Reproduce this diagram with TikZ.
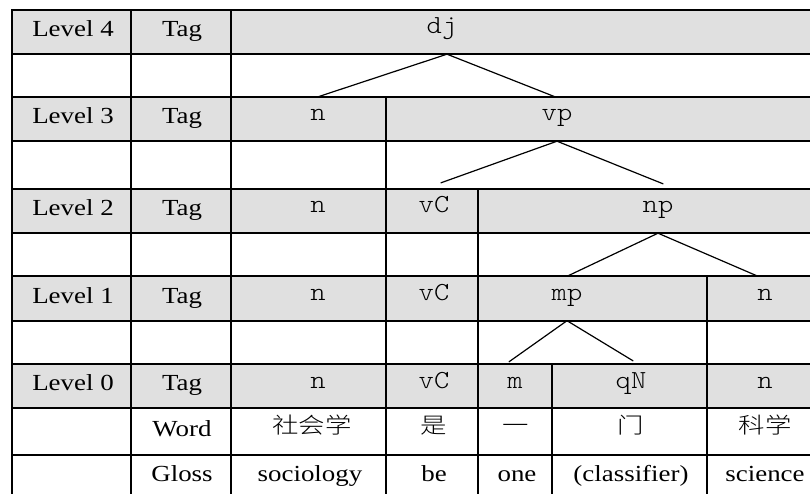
\documentclass[tikz,border=0pt]{standalone}
\usepackage{fontspec}
\setmainfont{Liberation Serif}[FakeStretch=1.17]
\setmonofont{Latin Modern Mono Light}[FakeStretch=1.12]
\newfontfamily\cjkfont{Noto Sans CJK SC Light}[FakeStretch=1.2]
\definecolor{tagbg}{RGB}{224,224,224}
\tikzset{
  gridline/.style={line width=1.5pt, line cap=rect},
  branch/.style={line width=1.2pt, line cap=round},
  cell/.style={inner sep=0pt, font=\fontsize{23}{27}\selectfont, text height=15pt, text depth=6pt},
  tagcell/.style={inner sep=0pt, minimum height=44pt, font=\fontsize{26}{30}\selectfont\ttfamily, text height=13pt, text depth=9pt},
  wordcell/.style={inner sep=0pt, font=\fontsize{22}{26}\selectfont\cjkfont, text height=12pt, text depth=9pt},
}
\begin{document}
\begin{tikzpicture}[x=1pt,y=-1pt]
\useasboundingbox (0,0) rectangle (810,494);
% gray tag rows
\foreach \a/\b in {10/54, 97/141, 189/233, 276/321, 364/408}
  \fill[tagbg] (12,\a) rectangle (810,\b);
% horizontal lines
\foreach \y in {10,54,97,141,189,233,276,321,364,408,455}
  \draw[gridline] (12,\y) -- (812,\y);
% vertical lines
\draw[gridline] (12,10) -- (12,496);
\draw[gridline] (131,10) -- (131,496);
\draw[gridline] (231,10) -- (231,496);
\draw[gridline] (386,97) -- (386,496);
\draw[gridline] (478,189) -- (478,496);
\draw[gridline] (707,276) -- (707,496);
\draw[gridline] (552,364) -- (552,496);
% level labels
\node[cell] (L4) at (73,32) {Level 4};
\node[cell] (L3) at (73,119) {Level 3};
\node[cell] (L2) at (73,211) {Level 2};
\node[cell] (L1) at (73,298.5) {Level 1};
\node[cell] (L0) at (73,386) {Level 0};
\node[cell] (T4) at (182,32) {Tag};
\node[cell] (T3) at (182,119) {Tag};
\node[cell] (T2) at (182,211) {Tag};
\node[cell] (T1) at (182,298.5) {Tag};
\node[cell] (T0) at (182,386) {Tag};
\node[cell] (Wd) at (182,431.5) {Word};
\node[cell] (Gl) at (182,477) {Gloss};
% tags
\node[tagcell] (dj) at (442,32) {dj};
\node[tagcell] (n3) at (318,119) {n};
\node[tagcell] (vp) at (557,119) {vp};
\node[tagcell] (n2) at (318,211) {n};
\node[tagcell] (vc2) at (434,211) {vC};
\node[tagcell] (np) at (658,211) {np};
\node[tagcell] (n1a) at (318,298.5) {n};
\node[tagcell] (vc1) at (434,298.5) {vC};
\node[tagcell] (mp) at (567,298.5) {mp};
\node[tagcell] (n1b) at (765,298.5) {n};
\node[tagcell] (n0a) at (318,386) {n};
\node[tagcell] (vc0) at (434,386) {vC};
\node[tagcell] (m0) at (515,386) {m};
\node[tagcell] (qn0) at (631,386) {qN};
\node[tagcell] (n0b) at (765,386) {n};
% words
\node[wordcell] (w1) at (312,431.5) {社会学};
\node[wordcell] (w2) at (434,431.5) {是};
\node[wordcell] (w3) at (516,431.5) {一};
\node[wordcell] (w4) at (631,431.5) {门};
\node[wordcell] (w5) at (765,431.5) {科学};
% glosses
\node[cell] (g1) at (310,477) {sociology};
\node[cell] (g2) at (434,477) {be};
\node[cell] (g3) at (517,477) {one};
\node[cell] (g4) at (631,477) {(classifier)};
\node[cell] (g5) at (765,477) {science};
% tree
\draw[branch] ([xshift=5pt]dj.south) -- (n3.north);
\draw[branch] ([xshift=5pt]dj.south) -- ([xshift=-2pt]vp.north);
\draw[branch] (vp.south) -- ([xshift=7pt,yshift=6pt]vc2.north);
\draw[branch] (vp.south) -- ([xshift=5pt,yshift=5pt]np.north);
\draw[branch] (np.south) -- (mp.north);
\draw[branch] (np.south) -- ([xshift=-7pt]n1b.north);
\draw[branch] (mp.south) -- ([xshift=-6pt,yshift=2pt]m0.north);
\draw[branch] (mp.south) -- ([xshift=2pt,yshift=3pt]qn0.north);
\end{tikzpicture}
\end{document}
